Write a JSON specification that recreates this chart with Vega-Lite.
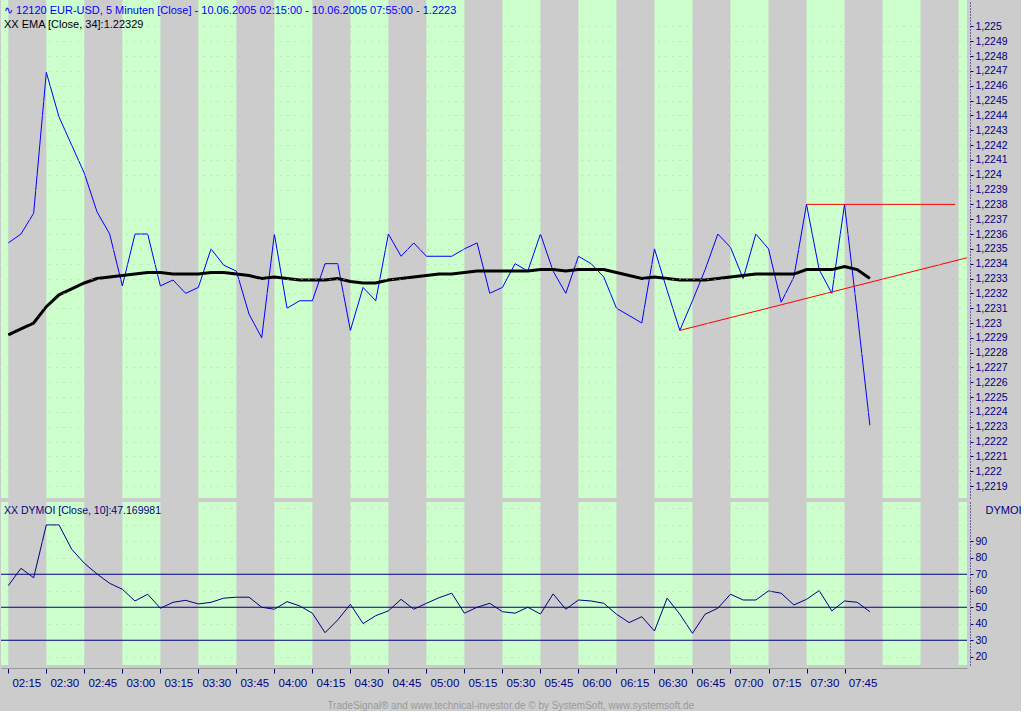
{
  "$schema": "https://vega.github.io/schema/vega-lite/v6.json",
  "padding": 0,
  "background": "#cccccc",
  "spacing": 4,
  "title": {
    "text": "TradeSignal® and www.technical-investor.de © by SystemSoft, www.systemsoft.de",
    "orient": "bottom", "anchor": "middle", "offset": 12,
    "font": "Liberation Sans", "fontSize": 10, "fontWeight": "normal", "color": "#9a9a9a"
  },
  "datasets": {
    "bars": [
      {"t": "2005-06-10T02:15", "price": 1.22354, "ema": 1.22292, "dymoi": 63.1},
      {"t": "2005-06-10T02:20", "price": 1.2236, "ema": 1.22296, "dymoi": 73.6},
      {"t": "2005-06-10T02:25", "price": 1.22374, "ema": 1.223, "dymoi": 67.9},
      {"t": "2005-06-10T02:30", "price": 1.22469, "ema": 1.22311, "dymoi": 99.9},
      {"t": "2005-06-10T02:35", "price": 1.22439, "ema": 1.22319, "dymoi": 99.9},
      {"t": "2005-06-10T02:40", "price": 1.2242, "ema": 1.22323, "dymoi": 85.2},
      {"t": "2005-06-10T02:45", "price": 1.22401, "ema": 1.22327, "dymoi": 76.7},
      {"t": "2005-06-10T02:50", "price": 1.22375, "ema": 1.2233, "dymoi": 70.2},
      {"t": "2005-06-10T02:55", "price": 1.2236, "ema": 1.22331, "dymoi": 64.5},
      {"t": "2005-06-10T03:00", "price": 1.22325, "ema": 1.22332, "dymoi": 60.9},
      {"t": "2005-06-10T03:05", "price": 1.2236, "ema": 1.22333, "dymoi": 53.8},
      {"t": "2005-06-10T03:10", "price": 1.2236, "ema": 1.22334, "dymoi": 57.9},
      {"t": "2005-06-10T03:15", "price": 1.22325, "ema": 1.22334, "dymoi": 49.4},
      {"t": "2005-06-10T03:20", "price": 1.22329, "ema": 1.22333, "dymoi": 53},
      {"t": "2005-06-10T03:25", "price": 1.2232, "ema": 1.22333, "dymoi": 54.2},
      {"t": "2005-06-10T03:30", "price": 1.22324, "ema": 1.22333, "dymoi": 52},
      {"t": "2005-06-10T03:35", "price": 1.2235, "ema": 1.22334, "dymoi": 53},
      {"t": "2005-06-10T03:40", "price": 1.22339, "ema": 1.22334, "dymoi": 55.5},
      {"t": "2005-06-10T03:45", "price": 1.22335, "ema": 1.22333, "dymoi": 56.1},
      {"t": "2005-06-10T03:50", "price": 1.22306, "ema": 1.22332, "dymoi": 56.1},
      {"t": "2005-06-10T03:55", "price": 1.2229, "ema": 1.2233, "dymoi": 50},
      {"t": "2005-06-10T04:00", "price": 1.2236, "ema": 1.22331, "dymoi": 48.8},
      {"t": "2005-06-10T04:05", "price": 1.2231, "ema": 1.2233, "dymoi": 53.4},
      {"t": "2005-06-10T04:10", "price": 1.22315, "ema": 1.22329, "dymoi": 50.8},
      {"t": "2005-06-10T04:15", "price": 1.22315, "ema": 1.22329, "dymoi": 46.4},
      {"t": "2005-06-10T04:20", "price": 1.2234, "ema": 1.22329, "dymoi": 34.6},
      {"t": "2005-06-10T04:25", "price": 1.2234, "ema": 1.2233, "dymoi": 42.3},
      {"t": "2005-06-10T04:30", "price": 1.22295, "ema": 1.22328, "dymoi": 51.8},
      {"t": "2005-06-10T04:35", "price": 1.22324, "ema": 1.22327, "dymoi": 40.1},
      {"t": "2005-06-10T04:40", "price": 1.22315, "ema": 1.22327, "dymoi": 44.9},
      {"t": "2005-06-10T04:45", "price": 1.2236, "ema": 1.22329, "dymoi": 47.8},
      {"t": "2005-06-10T04:50", "price": 1.22345, "ema": 1.2233, "dymoi": 54.8},
      {"t": "2005-06-10T04:55", "price": 1.22354, "ema": 1.22331, "dymoi": 48.8},
      {"t": "2005-06-10T05:00", "price": 1.22345, "ema": 1.22332, "dymoi": 52.4},
      {"t": "2005-06-10T05:05", "price": 1.22345, "ema": 1.22333, "dymoi": 55.8},
      {"t": "2005-06-10T05:10", "price": 1.22345, "ema": 1.22333, "dymoi": 58.5},
      {"t": "2005-06-10T05:15", "price": 1.2235, "ema": 1.22334, "dymoi": 46.4},
      {"t": "2005-06-10T05:20", "price": 1.22354, "ema": 1.22335, "dymoi": 50},
      {"t": "2005-06-10T05:25", "price": 1.2232, "ema": 1.22335, "dymoi": 52.4},
      {"t": "2005-06-10T05:30", "price": 1.22324, "ema": 1.22335, "dymoi": 47.3},
      {"t": "2005-06-10T05:35", "price": 1.2234, "ema": 1.22335, "dymoi": 46.4},
      {"t": "2005-06-10T05:40", "price": 1.22335, "ema": 1.22335, "dymoi": 50},
      {"t": "2005-06-10T05:45", "price": 1.2236, "ema": 1.22336, "dymoi": 45.9},
      {"t": "2005-06-10T05:50", "price": 1.22335, "ema": 1.22336, "dymoi": 58.1},
      {"t": "2005-06-10T05:55", "price": 1.2232, "ema": 1.22335, "dymoi": 48.8},
      {"t": "2005-06-10T06:00", "price": 1.22345, "ema": 1.22336, "dymoi": 54.4},
      {"t": "2005-06-10T06:05", "price": 1.2234, "ema": 1.22336, "dymoi": 53.8},
      {"t": "2005-06-10T06:10", "price": 1.22331, "ema": 1.22336, "dymoi": 52.4},
      {"t": "2005-06-10T06:15", "price": 1.2231, "ema": 1.22334, "dymoi": 45.8},
      {"t": "2005-06-10T06:20", "price": 1.22305, "ema": 1.22332, "dymoi": 40.7},
      {"t": "2005-06-10T06:25", "price": 1.223, "ema": 1.2233, "dymoi": 44.3},
      {"t": "2005-06-10T06:30", "price": 1.2235, "ema": 1.22331, "dymoi": 35.6},
      {"t": "2005-06-10T06:35", "price": 1.22322, "ema": 1.2233, "dymoi": 55.5},
      {"t": "2005-06-10T06:40", "price": 1.22295, "ema": 1.22329, "dymoi": 45.8},
      {"t": "2005-06-10T06:45", "price": 1.22315, "ema": 1.22329, "dymoi": 34.2},
      {"t": "2005-06-10T06:50", "price": 1.22336, "ema": 1.22329, "dymoi": 45.8},
      {"t": "2005-06-10T06:55", "price": 1.2236, "ema": 1.2233, "dymoi": 49.4},
      {"t": "2005-06-10T07:00", "price": 1.22351, "ema": 1.22331, "dymoi": 57.9},
      {"t": "2005-06-10T07:05", "price": 1.2233, "ema": 1.22332, "dymoi": 54.4},
      {"t": "2005-06-10T07:10", "price": 1.2236, "ema": 1.22333, "dymoi": 54.4},
      {"t": "2005-06-10T07:15", "price": 1.2235, "ema": 1.22333, "dymoi": 59.9},
      {"t": "2005-06-10T07:20", "price": 1.22314, "ema": 1.22333, "dymoi": 58.5},
      {"t": "2005-06-10T07:25", "price": 1.22331, "ema": 1.22333, "dymoi": 51.4},
      {"t": "2005-06-10T07:30", "price": 1.2238, "ema": 1.22336, "dymoi": 54.8},
      {"t": "2005-06-10T07:35", "price": 1.22336, "ema": 1.22336, "dymoi": 60.1},
      {"t": "2005-06-10T07:40", "price": 1.2232, "ema": 1.22336, "dymoi": 47.8},
      {"t": "2005-06-10T07:45", "price": 1.2238, "ema": 1.22338, "dymoi": 53.8},
      {"t": "2005-06-10T07:50", "price": 1.22307, "ema": 1.22336, "dymoi": 53},
      {"t": "2005-06-10T07:55", "price": 1.22231, "ema": 1.2233, "dymoi": 47.3}
    ],
    "bands": [
      {"start": "2005-06-10T02:00", "end": "2005-06-10T02:15"},
      {"start": "2005-06-10T02:30", "end": "2005-06-10T02:45"},
      {"start": "2005-06-10T03:00", "end": "2005-06-10T03:15"},
      {"start": "2005-06-10T03:30", "end": "2005-06-10T03:45"},
      {"start": "2005-06-10T04:00", "end": "2005-06-10T04:15"},
      {"start": "2005-06-10T04:30", "end": "2005-06-10T04:45"},
      {"start": "2005-06-10T05:00", "end": "2005-06-10T05:15"},
      {"start": "2005-06-10T05:30", "end": "2005-06-10T05:45"},
      {"start": "2005-06-10T06:00", "end": "2005-06-10T06:15"},
      {"start": "2005-06-10T06:30", "end": "2005-06-10T06:45"},
      {"start": "2005-06-10T07:00", "end": "2005-06-10T07:15"},
      {"start": "2005-06-10T07:30", "end": "2005-06-10T07:45"},
      {"start": "2005-06-10T08:00", "end": "2005-06-10T08:15"},
      {"start": "2005-06-10T08:30", "end": "2005-06-10T08:45"}
    ],
    "levels": [{"level": 70}, {"level": 50}, {"level": 30}],
    "drawn": [
      {"seg": "resistance", "t": "2005-06-10T07:30", "p": 1.2238},
      {"seg": "resistance", "t": "2005-06-10T08:28:40", "p": 1.2238},
      {"seg": "trend", "t": "2005-06-10T06:40", "p": 1.22295},
      {"seg": "trend", "t": "2005-06-10T08:33:20", "p": 1.22344}
    ]
  },
  "config": {
    "view": {"stroke": null, "fill": "#cccccc"},
    "axis": {
      "labelFont": "Liberation Sans", "labelFontSize": 10.5, "labelColor": "#000080",
      "tickColor": "#000080", "domainColor": "#000080",
      "gridColor": "#c4bcc4", "gridDash": [1, 6], "gridWidth": 1,
      "titleFontWeight": "normal", "labelOverlap": false, "labelFlush": false
    }
  },
  "vconcat": [
    {
      "width": 966, "height": 498,
      "title": {
        "text": "∿ 12120  EUR-USD, 5 Minuten [Close] - 10.06.2005 02:15:00 - 10.06.2005 07:55:00 - 1.2223",
        "subtitle": "XX EMA [Close, 34]:1.22329",
        "anchor": "start", "frame": "group", "orient": "top", "offset": -30, "dx": 3,
        "font": "Liberation Sans", "fontSize": 11, "fontWeight": "normal", "color": "#0000ff",
        "subtitleFont": "Liberation Sans", "subtitleFontSize": 11, "subtitleColor": "#000000", "subtitlePadding": 3
      },
      "layer": [
        {
          "data": {"name": "bands"},
          "mark": {"type": "rect", "color": "#ccffcc", "clip": true},
          "encoding": {
            "x": {"field": "start", "type": "temporal",
                  "scale": {"domain": [{"year": 2005, "month": 6, "date": 10, "hours": 2, "minutes": 12, "seconds": 7}, {"year": 2005, "month": 6, "date": 10, "hours": 8, "minutes": 33, "seconds": 20}]},
                  "axis": null},
            "x2": {"field": "end"}
          }
        },
        {
          "data": {"name": "bars"},
          "mark": {"type": "line", "color": "#0000ff", "strokeWidth": 1},
          "encoding": {
            "x": {"field": "t", "type": "temporal"},
            "y": {"field": "price", "type": "quantitative",
                  "scale": {"domain": [1.22182, 1.225178], "zero": false, "nice": false},
                  "axis": {
                    "orient": "right", "title": null, "offset": 3, "zindex": 1, "tickCount": 200,
                    "values": [1.2219, 1.222, 1.2221, 1.2222, 1.2223, 1.2224, 1.2225, 1.2226, 1.2227, 1.2228, 1.2229, 1.223, 1.2231, 1.2232, 1.2233, 1.2234, 1.2235, 1.2236, 1.2237, 1.2238, 1.2239, 1.224, 1.2241, 1.2242, 1.2243, 1.2244, 1.2245, 1.2246, 1.2247, 1.2248, 1.2249, 1.225],
                    "labelExpr": "replace(format(datum.value, '.4~f'), '.', ',')",
                    "gridOpacity": {"condition": {"test": "abs(datum.value - 1.2238) < 0.00001", "value": 0}, "value": 1},
                    "labelOverlap": false, "labelFlush": false, "labelBound": false,
                    "domainDash": [1, 2], "tickSize": 3, "labelPadding": 2, "grid": true
                  }}
          }
        },
        {
          "data": {"name": "bars"},
          "mark": {"type": "line", "color": "#000000", "strokeWidth": 3},
          "encoding": {
            "x": {"field": "t", "type": "temporal"},
            "y": {"field": "ema", "type": "quantitative"}
          }
        },
        {
          "data": {"name": "drawn"},
          "mark": {"type": "line", "color": "#ff0000", "strokeWidth": 1, "clip": true},
          "encoding": {
            "x": {"field": "t", "type": "temporal"},
            "y": {"field": "p", "type": "quantitative"},
            "detail": {"field": "seg"}
          }
        }
      ]
    },
    {
      "width": 966, "height": 163,
      "title": {
        "text": "XX DYMOI [Close, 10]:47.169981",
        "anchor": "start", "frame": "group", "orient": "top", "offset": -14, "dx": 3,
        "font": "Liberation Sans", "fontSize": 10.5, "fontWeight": "normal", "color": "#000080"
      },
      "layer": [
        {
          "data": {"name": "bands"},
          "mark": {"type": "rect", "color": "#ccffcc", "clip": true},
          "encoding": {
            "x": {"field": "start", "type": "temporal",
                  "scale": {"domain": [{"year": 2005, "month": 6, "date": 10, "hours": 2, "minutes": 12, "seconds": 7}, {"year": 2005, "month": 6, "date": 10, "hours": 8, "minutes": 33, "seconds": 20}]},
                  "axis": {
                    "orient": "bottom", "title": null, "offset": 3, "format": "%H:%M", "tickCount": 200,
                    "values": [
                      {"year": 2005, "month": 6, "date": 10, "hours": 2, "minutes": 15},
                      {"year": 2005, "month": 6, "date": 10, "hours": 2, "minutes": 30},
                      {"year": 2005, "month": 6, "date": 10, "hours": 2, "minutes": 45},
                      {"year": 2005, "month": 6, "date": 10, "hours": 3, "minutes": 0},
                      {"year": 2005, "month": 6, "date": 10, "hours": 3, "minutes": 15},
                      {"year": 2005, "month": 6, "date": 10, "hours": 3, "minutes": 30},
                      {"year": 2005, "month": 6, "date": 10, "hours": 3, "minutes": 45},
                      {"year": 2005, "month": 6, "date": 10, "hours": 4, "minutes": 0},
                      {"year": 2005, "month": 6, "date": 10, "hours": 4, "minutes": 15},
                      {"year": 2005, "month": 6, "date": 10, "hours": 4, "minutes": 30},
                      {"year": 2005, "month": 6, "date": 10, "hours": 4, "minutes": 45},
                      {"year": 2005, "month": 6, "date": 10, "hours": 5, "minutes": 0},
                      {"year": 2005, "month": 6, "date": 10, "hours": 5, "minutes": 15},
                      {"year": 2005, "month": 6, "date": 10, "hours": 5, "minutes": 30},
                      {"year": 2005, "month": 6, "date": 10, "hours": 5, "minutes": 45},
                      {"year": 2005, "month": 6, "date": 10, "hours": 6, "minutes": 0},
                      {"year": 2005, "month": 6, "date": 10, "hours": 6, "minutes": 15},
                      {"year": 2005, "month": 6, "date": 10, "hours": 6, "minutes": 30},
                      {"year": 2005, "month": 6, "date": 10, "hours": 6, "minutes": 45},
                      {"year": 2005, "month": 6, "date": 10, "hours": 7, "minutes": 0},
                      {"year": 2005, "month": 6, "date": 10, "hours": 7, "minutes": 15},
                      {"year": 2005, "month": 6, "date": 10, "hours": 7, "minutes": 30},
                      {"year": 2005, "month": 6, "date": 10, "hours": 7, "minutes": 45}
                    ],
                    "labelOffset": 18, "labelFont": "Liberation Sans", "labelFontSize": 11.5,
                    "labelPadding": 4, "tickSize": 5, "domainColor": "#999999",
                    "labelOverlap": false, "grid": false
                  }},
            "x2": {"field": "end"}
          }
        },
        {
          "data": {"name": "levels"},
          "mark": {"type": "rule", "color": "#000080", "strokeWidth": 1},
          "encoding": {
            "y": {"field": "level", "type": "quantitative"}
          }
        },
        {
          "data": {"name": "bars"},
          "mark": {"type": "line", "color": "#000080", "strokeWidth": 1},
          "encoding": {
            "x": {"field": "t", "type": "temporal"},
            "y": {"field": "dymoi", "type": "quantitative",
                  "scale": {"domain": [15, 113.8], "zero": false, "nice": false},
                  "axis": {
                    "orient": "right", "title": "DYMOI", "offset": 3, "zindex": 1, "tickCount": 200,
                    "values": [20, 30, 40, 50, 60, 70, 80, 90, 100, 110],
                    "labelExpr": "datum.value <= 90 ? format(datum.value, 'd') : ''",
                    "labelOverlap": false, "labelFlush": false, "labelBound": false,
                    "tickOpacity": {"condition": {"test": "datum.value > 90", "value": 0}, "value": 1},
                    "gridOpacity": {"condition": {"test": "datum.value == 30 || datum.value == 50 || datum.value == 70", "value": 0}, "value": 1},
                    "domainDash": [1, 2], "tickSize": 3, "labelPadding": 2, "grid": true,
                    "titleAngle": 0, "titleAlign": "right", "titleBaseline": "middle",
                    "titleX": 51, "titleY": 8, "titleColor": "#000080",
                    "titleFont": "Liberation Sans", "titleFontSize": 11
                  }}
          }
        }
      ]
    }
  ]
}
